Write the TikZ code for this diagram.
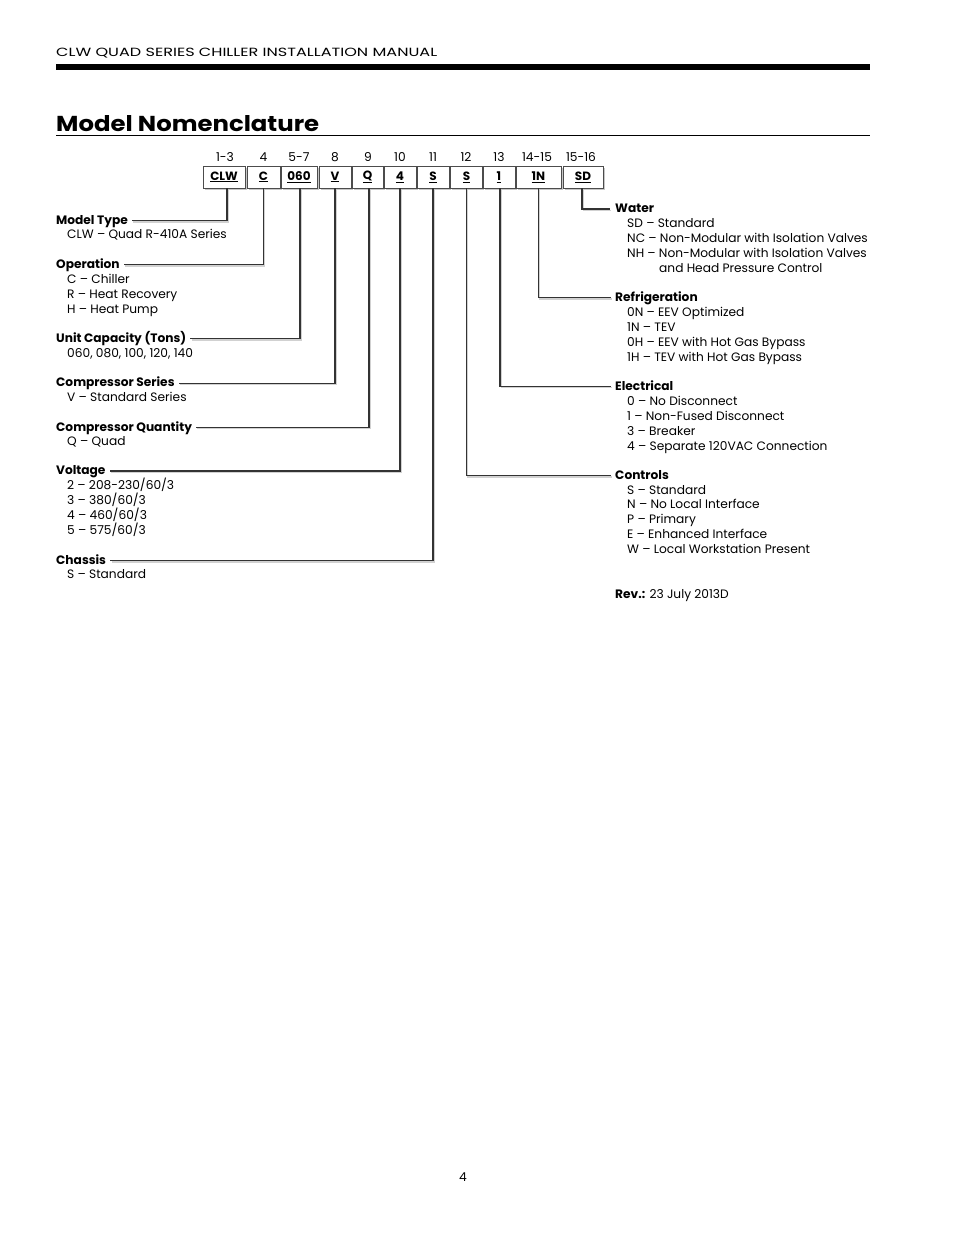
\documentclass[tikz,border=0pt]{standalone}
\usepackage{fontspec}
\setmainfont{Poppins}
\usetikzlibrary{shadows}
\begin{document}
\begin{tikzpicture}[x=1pt,y=-1pt,
  head/.style={anchor=base west, inner sep=0pt, text height=7pt, text depth=0pt, font=\fontsize{12.2}{14}\selectfont\bfseries},
  item/.style={anchor=base west, inner sep=0pt, font=\fontsize{12.2}{14}\selectfont},
  num/.style={anchor=base, inner sep=0pt, font=\fontsize{12.2}{14}\selectfont},
  cbox/.style={draw=black!70, fill=white, line width=0.7pt, minimum height=22pt, inner sep=0pt,
    font=\fontsize{12}{14}\selectfont\bfseries,
    drop shadow={shadow xshift=1.5pt, shadow yshift=-1.5pt, fill=black!22, opacity=1}},
  conn/.style={draw=black!80, line width=1.1pt,
    preaction={draw=black!18, line width=1.3pt, transform canvas={xshift=1.3pt,yshift=-1.3pt}}}
]
\useasboundingbox[fill=white] (0,0) rectangle (954,1235);

% page header
\node[anchor=base west, inner sep=0pt] (hdr) at (56,56.7) {\resizebox{381pt}{8.4pt}{CLW QUAD SERIES CHILLER INSTALLATION MANUAL}};
\fill[black] (56,63.5) rectangle (870,69.5);
\node[anchor=base west, inner sep=0pt] (title) at (56,131.7) {\resizebox{263pt}{16pt}{\bfseries Model Nomenclature}};
\draw[line width=0.9pt] (56,135) -- (870,135);

% code boxes
\node[cbox, minimum width=42pt] (b1) at (224,177) {\underline{CLW}};
\node[cbox, minimum width=33pt] (b2) at (263.5,177) {\underline{C}};
\node[cbox, minimum width=36pt] (b3) at (299,177) {\underline{060}};
\node[cbox, minimum width=32pt] (b4) at (335,177) {\underline{V}};
\node[cbox, minimum width=31pt] (b5) at (367.5,177) {\underline{Q}};
\node[cbox, minimum width=32pt] (b6) at (400,177) {\underline{4}};
\node[cbox, minimum width=32pt] (b7) at (433,177) {\underline{S}};
\node[cbox, minimum width=32pt] (b8) at (466.5,177) {\underline{S}};
\node[cbox, minimum width=32pt] (b9) at (499,177) {\underline{1}};
\node[cbox, minimum width=45pt] (b10) at (538.5,177) {\underline{1N}};
\node[cbox, minimum width=40pt] (b11) at (583,177) {\underline{SD}};

% position numbers
\node[num] (n1) at (225,161.5) {1-3};
\node[num] (n2) at (263.5,161.5) {4};
\node[num] (n3) at (299,161.5) {5-7};
\node[num] (n4) at (335,161.5) {8};
\node[num] (n5) at (368,161.5) {9};
\node[num] (n6) at (400,161.5) {10};
\node[num] (n7) at (433,161.5) {11};
\node[num] (n8) at (466,161.5) {12};
\node[num] (n9) at (499,161.5) {13};
\node[num] (n10) at (537,161.5) {14-15};
\node[num] (n11) at (581,161.5) {15-16};

% left side
\node[head] (mt) at (56,224.3) {Model Type};
\node[item] (mt1) at (67,238.8) {CLW – Quad R-410A Series};

\node[head] (op) at (56,268.3) {Operation};
\foreach \t [count=\i] in {C – Chiller, R – Heat Recovery, H – Heat Pump}
  \node[item] (op\i) at (67,{268.3+15*\i}) {\t};

\node[head] (uc) at (56,342.3) {Unit Capacity (Tons)};
\node[item] (uc1) at (67,357.3) {060, 080, 100, 120, 140};

\node[head] (cs) at (56,386.7) {Compressor Series};
\node[item] (cs1) at (67,401.7) {V – Standard Series};

\node[head] (cq) at (56,431) {Compressor Quantity};
\node[item] (cq1) at (67,445.5) {Q – Quad};

\node[head] (vo) at (56,474.5) {Voltage};
\foreach \t [count=\i] in {2 – 208-230/60/3, 3 – 380/60/3, 4 – 460/60/3, 5 – 575/60/3}
  \node[item] (vo\i) at (67,{474.5+15*\i}) {\t};

\node[head] (ch) at (56,564.3) {Chassis};
\node[item] (ch1) at (67,578.5) {S – Standard};

% right side
\node[head] (wa) at (615,212.5) {Water};
\foreach \t [count=\i] in {SD – Standard, NC – Non-Modular with Isolation Valves, NH – Non-Modular with Isolation Valves}
  \node[item] (wa\i) at (627,{212.5+15*\i}) {\t};
\node[item] (wa4) at (659,272.3) {and Head Pressure Control};

\node[head] (re) at (615,301.2) {Refrigeration};
\foreach \t [count=\i] in {0N – EEV Optimized, 1N – TEV, 0H – EEV with Hot Gas Bypass, 1H – TEV with Hot Gas Bypass}
  \node[item] (re\i) at (627,{301+15*\i}) {\t};

\node[head] (el) at (615,390) {Electrical};
\foreach \t [count=\i] in {0 – No Disconnect, 1 – Non-Fused Disconnect, 3 – Breaker, 4 – Separate 120VAC Connection}
  \node[item] (el\i) at (627,{390+15*\i}) {\t};

\node[head] (co) at (615,479.3) {Controls};
\foreach \t [count=\i] in {S – Standard, N – No Local Interface, P – Primary, E – Enhanced Interface, W – Local Workstation Present}
  \node[item] (co\i) at (627,{479.3+14.8*\i}) {\t};

\node[item] (rev) at (615,598.3) {\textbf{Rev.:} 23 July 2013D};

% connectors
\draw[conn] ([xshift=3pt]b1.south) |- ([xshift=4pt]mt.east);
\draw[conn] (b2.south) |- ([xshift=4pt]op.east);
\draw[conn] ([xshift=1pt]b3.south) |- ([xshift=4pt]uc.east);
\draw[conn] (b4.south) |- ([xshift=4pt]cs.east);
\draw[conn] ([xshift=1.5pt]b5.south) |- ([xshift=4pt]cq.east);
\draw[conn] (b6.south) |- ([xshift=4pt]vo.east);
\draw[conn] (b7.south) |- ([xshift=4pt]ch.east);
\draw[conn] (b8.south) |- ([xshift=-4pt]co.west);
\draw[conn] ([xshift=1pt]b9.south) |- ([xshift=-4pt]el.west);
\draw[conn] (b10.south) |- ([xshift=-4pt]re.west);
\draw[conn] ([xshift=-1pt]b11.south) |- ([xshift=-5pt]wa.west);

% page number
\node[num] (pg) at (463,1181) {4};
\end{tikzpicture}
\end{document}
